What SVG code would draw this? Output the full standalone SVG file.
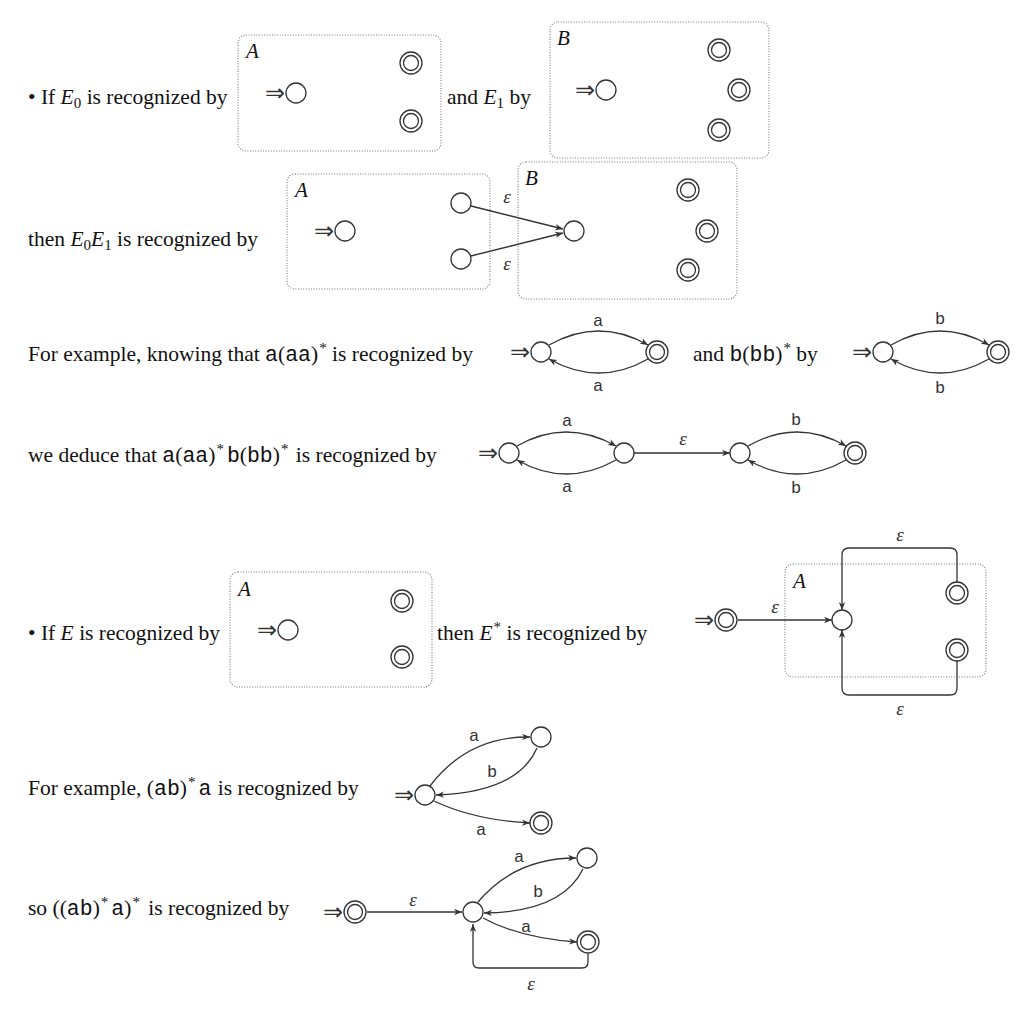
<svg xmlns="http://www.w3.org/2000/svg" width="1034" height="1010" viewBox="0 0 1034 1010">
<style>
.t{font-family:"Liberation Serif",serif;font-size:21.5px;fill:#111}
.m{font-family:"Liberation Mono",monospace}
.lab{font-family:"Liberation Mono",monospace;font-size:17px;fill:#333;text-anchor:middle}
.eps{font-family:"Liberation Serif",serif;font-style:italic;font-size:19px;fill:#333;text-anchor:middle}
.box{fill:none;stroke:#777;stroke-width:1.1;stroke-dasharray:1 1.6}
.bl{font-family:"Liberation Serif",serif;font-style:italic;font-size:21px;fill:#111}
.s{fill:#fff;stroke:#333;stroke-width:1.3}
.in{font-family:"DejaVu Sans",sans-serif;font-size:24px;fill:#333}
.e{fill:none;stroke:#333;stroke-width:1.3;marker-end:url(#ah)}
</style>
<defs>
<marker id="ah" viewBox="0 0 10 10" refX="10" refY="5" markerWidth="8" markerHeight="8" orient="auto" markerUnits="userSpaceOnUse">
<path d="M0,1 L10,5 L0,9 L3,5 z" fill="#333"/>
</marker>
<g id="fin"><circle r="11" class="s"/><circle r="7.5" class="s"/></g>
</defs>

<!-- texts -->
<g id="texts">
<text class="t" x="28" y="104">• If <tspan font-style="italic">E</tspan><tspan font-size="15" dy="4">0</tspan><tspan dy="-4"> is recognized by</tspan></text>
<text class="t" x="447" y="104">and <tspan font-style="italic">E</tspan><tspan font-size="15" dy="4">1</tspan><tspan dy="-4"> by</tspan></text>
<text class="t" x="28" y="246">then <tspan font-style="italic">E</tspan><tspan font-size="15" dy="4">0</tspan><tspan dy="-4" font-style="italic">E</tspan><tspan font-size="15" dy="4">1</tspan><tspan dy="-4"> is recognized by</tspan></text>
<text class="t" x="28" y="361">For example, knowing that <tspan class="m">a</tspan>(<tspan class="m">aa</tspan>)<tspan font-size="15" dx="1" dy="-8">*</tspan><tspan dy="8"> is recognized by</tspan></text>
<text class="t" x="693" y="361">and <tspan class="m">b</tspan>(<tspan class="m">bb</tspan>)<tspan font-size="15" dx="1" dy="-8">*</tspan><tspan dy="8"> by</tspan></text>
<text class="t" x="28" y="462">we deduce that <tspan class="m">a</tspan>(<tspan class="m">aa</tspan>)<tspan font-size="15" dx="1" dy="-8">*</tspan><tspan dx="3" dy="8" class="m">b</tspan>(<tspan class="m">bb</tspan>)<tspan font-size="15" dx="1" dy="-8">*</tspan><tspan dx="2" dy="8"> is recognized by</tspan></text>
<text class="t" x="28" y="640">• If <tspan font-style="italic">E</tspan> is recognized by</text>
<text class="t" x="437" y="640">then <tspan font-style="italic">E</tspan><tspan font-size="15" dx="1" dy="-8">*</tspan><tspan dy="8"> is recognized by</tspan></text>
<text class="t" x="28" y="795">For example, (<tspan class="m">ab</tspan>)<tspan font-size="15" dx="1" dy="-8">*</tspan><tspan dx="3" dy="8" class="m">a</tspan><tspan dx="1"> is recognized by</tspan></text>
<text class="t" x="28" y="915">so ((<tspan class="m">ab</tspan>)<tspan font-size="15" dx="1" dy="-8">*</tspan><tspan dx="3" dy="8" class="m">a</tspan>)<tspan font-size="15" dx="1" dy="-8">*</tspan><tspan dx="3" dy="8"> is recognized by</tspan></text>
</g>

<!-- boxes -->
<g id="boxes">
<rect class="box" x="238" y="35" width="203" height="116" rx="8"/>
<text class="bl" x="246" y="58">A</text>
<rect class="box" x="550" y="22" width="219" height="136" rx="8"/>
<text class="bl" x="557" y="45">B</text>
<rect class="box" x="287" y="174" width="203" height="115" rx="8"/>
<text class="bl" x="295" y="197">A</text>
<rect class="box" x="518" y="162" width="219" height="137" rx="8"/>
<text class="bl" x="525" y="185">B</text>
<rect class="box" x="230" y="572" width="202" height="115" rx="8"/>
<text class="bl" x="238" y="596">A</text>
<rect class="box" x="785" y="564" width="201" height="113" rx="8"/>
<text class="bl" x="793" y="588">A</text>
</g>

<!-- connectors -->
<g id="connectors">
<line class="e" x1="471" y1="206" x2="563" y2="229"/>
<line class="e" x1="471" y1="256" x2="563" y2="233"/>
<text class="eps" x="507" y="203">ε</text>
<text class="eps" x="507" y="270">ε</text>

<path class="e" d="M549 345 Q599 317 648 345"/>
<path class="e" d="M648 359 Q599 387 549 359"/>
<text class="lab" x="598" y="326">a</text>
<text class="lab" x="598" y="391">a</text>
<path class="e" d="M891 345 Q940 317 989 345"/>
<path class="e" d="M989 359 Q940 387 891 359"/>
<text class="lab" x="940" y="324">b</text>
<text class="lab" x="940" y="393">b</text>

<path class="e" d="M517 446 Q566 418 616 446"/>
<path class="e" d="M616 460 Q566 488 517 460"/>
<text class="lab" x="567" y="426">a</text>
<text class="lab" x="567" y="492">a</text>
<line class="e" x1="634" y1="453" x2="730" y2="453"/>
<text class="eps" x="683" y="445">ε</text>
<path class="e" d="M748 446 Q797 418 846 446"/>
<path class="e" d="M846 460 Q797 488 748 460"/>
<text class="lab" x="796" y="425">b</text>
<text class="lab" x="796" y="493">b</text>

<line class="e" x1="738" y1="620" x2="832" y2="620"/>
<text class="eps" x="775" y="613">ε</text>
<path class="e" d="M957 582 V555 Q957 548 950 548 H849 Q842 548 842 555 V610"/>
<text class="eps" x="900" y="541">ε</text>
<path class="e" d="M957 661 V688 Q957 695 950 695 H849 Q842 695 842 688 V630"/>
<text class="eps" x="900" y="715">ε</text>

<path class="e" d="M430 786 Q468 736 530 737"/>
<text class="lab" x="474" y="741">a</text>
<path class="e" d="M537 748 Q518 792 436 795"/>
<text class="lab" x="492" y="777">b</text>
<path class="e" d="M434 801 Q474 820 530 823"/>
<text class="lab" x="481" y="835">a</text>

<line class="e" x1="367" y1="912" x2="462" y2="912"/>
<text class="eps" x="413" y="906">ε</text>
<path class="e" d="M478 902 Q515 858 576 858"/>
<text class="lab" x="519" y="862">a</text>
<path class="e" d="M583 869 Q562 912 484 913"/>
<text class="lab" x="538" y="897">b</text>
<path class="e" d="M483 918 Q520 938 577 942"/>
<text class="lab" x="526" y="932">a</text>
<path class="e" d="M588 954 V962 Q588 968 582 968 H479 Q473 968 473 962 V924"/>
<text class="eps" x="531" y="990">ε</text>
</g>

<!-- nodes -->
<g id="n1a-init"><text class="in" x="265" y="101">⇒</text><circle class="s" cx="296" cy="93" r="10"/></g>
<g id="n1a-f1"><use href="#fin" x="411" y="63"/></g>
<g id="n1a-f2"><use href="#fin" x="411" y="121"/></g>
<g id="n1b-init"><text class="in" x="575" y="98">⇒</text><circle class="s" cx="606" cy="90" r="10"/></g>
<g id="n1b-f1"><use href="#fin" x="719" y="50"/></g>
<g id="n1b-f2"><use href="#fin" x="739" y="90"/></g>
<g id="n1b-f3"><use href="#fin" x="719" y="130"/></g>

<g id="n2a-init"><text class="in" x="314" y="239">⇒</text><circle class="s" cx="345" cy="231" r="10"/></g>
<g id="n2a-s1"><circle class="s" cx="461" cy="203" r="10"/></g>
<g id="n2a-s2"><circle class="s" cx="461" cy="259" r="10"/></g>
<g id="n2b-s0"><circle class="s" cx="574" cy="231" r="10"/></g>
<g id="n2b-f1"><use href="#fin" x="688" y="190"/></g>
<g id="n2b-f2"><use href="#fin" x="707" y="231"/></g>
<g id="n2b-f3"><use href="#fin" x="688" y="270"/></g>

<g id="n3a-init"><text class="in" x="510" y="360">⇒</text><circle class="s" cx="541" cy="352" r="10"/></g>
<g id="n3a-f"><use href="#fin" x="657" y="352"/></g>
<g id="n3b-init"><text class="in" x="852" y="360">⇒</text><circle class="s" cx="883" cy="352" r="10"/></g>
<g id="n3b-f"><use href="#fin" x="998" y="352"/></g>

<g id="n4-init"><text class="in" x="478" y="461">⇒</text><circle class="s" cx="509" cy="453" r="10"/></g>
<g id="n4-s1"><circle class="s" cx="624" cy="453" r="10"/></g>
<g id="n4-s2"><circle class="s" cx="740" cy="453" r="10"/></g>
<g id="n4-f"><use href="#fin" x="855" y="453"/></g>

<g id="n5a-init"><text class="in" x="257" y="638">⇒</text><circle class="s" cx="288" cy="630" r="10"/></g>
<g id="n5a-f1"><use href="#fin" x="402" y="601"/></g>
<g id="n5a-f2"><use href="#fin" x="402" y="657"/></g>
<g id="n5b-init"><text class="in" x="694" y="628">⇒</text><use href="#fin" x="726" y="620"/></g>
<g id="n5b-s0"><circle class="s" cx="842" cy="620" r="10"/></g>
<g id="n5b-f1"><use href="#fin" x="957" y="593"/></g>
<g id="n5b-f2"><use href="#fin" x="957" y="650"/></g>

<g id="n6-init"><text class="in" x="394" y="803">⇒</text><circle class="s" cx="425" cy="795" r="10"/></g>
<g id="n6-s1"><circle class="s" cx="541" cy="737" r="10"/></g>
<g id="n6-f"><use href="#fin" x="541" y="823"/></g>

<g id="n7-init"><text class="in" x="323" y="920">⇒</text><use href="#fin" x="355" y="912"/></g>
<g id="n7-s0"><circle class="s" cx="473" cy="912" r="10"/></g>
<g id="n7-s1"><circle class="s" cx="587" cy="858" r="10"/></g>
<g id="n7-f"><use href="#fin" x="588" y="942"/></g>
</svg>
